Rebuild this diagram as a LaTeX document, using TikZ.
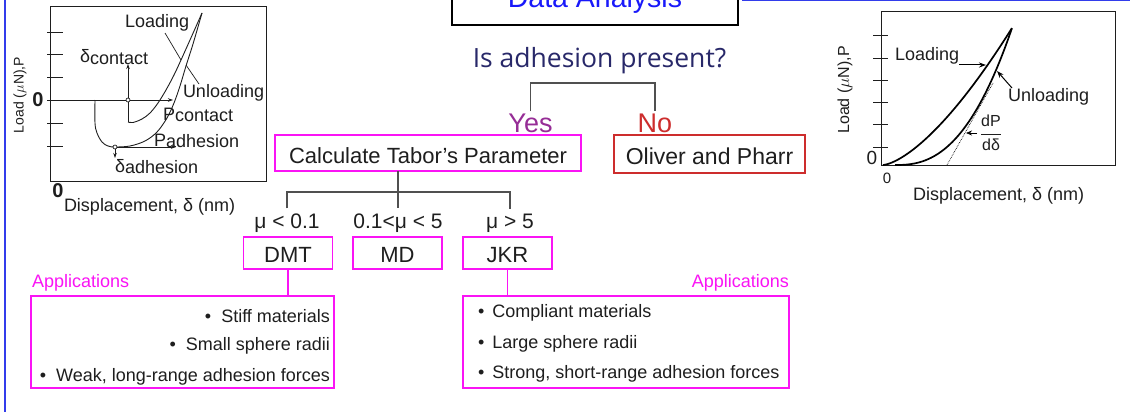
\documentclass[tikz,border=0pt]{standalone}
\usepackage{fontspec}
\setmainfont{Liberation Sans}
\newfontfamily\qfont{Open Sans}
\usetikzlibrary{arrows.meta}
\definecolor{ink}{RGB}{30,30,30}
\definecolor{mag}{RGB}{250,20,245}
\definecolor{navy}{RGB}{40,40,105}
\definecolor{yescol}{RGB}{150,45,150}
\definecolor{nocol}{RGB}{205,45,45}
\definecolor{titleblue}{RGB}{25,25,250}
\definecolor{frameblue}{RGB}{50,60,235}
\definecolor{lgray}{RGB}{80,80,80}
\newcommand\pxsize[1]{\fontsize{#1}{#1}\selectfont}
\begin{document}
\begin{tikzpicture}[x=1pt,y=-1pt,
  every node/.style={inner sep=0pt, outer sep=0pt, text=ink},
  box/.style={draw, line width=1.3pt, inner sep=0pt, text depth=0pt},
  link/.style={draw=lgray, line width=1.2pt},
  magline/.style={draw=mag, line width=1.3pt},
  plotline/.style={draw=ink, line width=1pt},
  tickmark/.style={draw=ink, line width=0.9pt},
  curve/.style={draw=ink, line width=0.9pt},
  thickcurve/.style={draw=black, line width=1.7pt},
  small arrow/.style={draw=ink, -{Stealth[length=5pt,width=3.5pt]}, line width=0.7pt},
  big arrow/.style={draw=black, -{Stealth[length=7pt,width=5pt]}, line width=1pt},
  lbl/.style={anchor=base west, font=\pxsize{18}},
  bullet/.style={font=\pxsize{18}},
]
\useasboundingbox (0,0) rectangle (1130,412);
\clip (0,0) rectangle (1130,412);
\fill[white] (0,0) rectangle (1130,412);

% slide frame
\draw[frameblue, line width=1.5pt] (5,0) -- (5,412);
\draw[frameblue, line width=2pt] (742,0.5) -- (1130,0.5);

% title box
\node[box, draw=black, line width=2pt, minimum width=286pt, minimum height=66pt,
      text height=31pt, font=\pxsize{28.5}, text=titleblue] (title) at (595,-8) {Data Analysis};

% decision
\node[anchor=base, font=\qfont\pxsize{26.5}, text=navy] (q) at (599.5,68) {Is adhesion present?};
\node[anchor=base, font=\pxsize{27}, text=yescol] (yes) at (530.5,132) {Yes};
\node[anchor=base, font=\pxsize{27}, text=nocol] (no) at (655,132) {No};
\coordinate (qb) at (599.5,83);
\draw[link] ([yshift=2pt]yes.north) |- (qb) -| ([yshift=2pt]no.north);

\node[box, draw=mag, minimum width=306pt, minimum height=36pt, text height=20pt,
      font=\pxsize{22}] (tabor) at (428,153) {Calculate Tabor’s Parameter};
\node[box, draw=nocol, line width=1.2pt, minimum width=191pt, minimum height=38pt,
      text height=20pt, font=\pxsize{23}] (oliver) at (709.5,154) {Oliver and Pharr};

% Tabor parameter branches
\coordinate (tb) at (398,192);
\node[anchor=base, font=\pxsize{21}] (mu1) at (287,228) {μ < 0.1};
\node[anchor=base, font=\pxsize{21}] (mu2) at (398,228) {0.1<μ < 5};
\node[anchor=base, font=\pxsize{21}] (mu3) at (510,228) {μ > 5};
\draw[link] (tabor.south -| tb) -- (tb);
\draw[link] ([yshift=5pt]mu1.north) |- (tb) -| ([yshift=5pt]mu3.north);
\draw[link] (tb) -- ([yshift=5pt]mu2.north);

\node[box, draw=mag, minimum width=89pt, minimum height=32pt, text height=18pt, font=\pxsize{22}] (dmt) at (288,253) {DMT};
\node[box, draw=mag, minimum width=89pt, minimum height=32pt, text height=18pt, font=\pxsize{22}] (md) at (397.5,253) {MD};
\node[box, draw=mag, minimum width=89pt, minimum height=32pt, text height=18pt, font=\pxsize{22}] (jkr) at (507.5,253) {JKR};

% applications
\node[box, draw=mag, minimum width=303pt, minimum height=92pt] (appl) at (182.5,342) {};
\node[box, draw=mag, minimum width=326pt, minimum height=92pt] (appr) at (626,342) {};
\draw[magline] (dmt.south) -- (dmt.south |- appl.north);
\draw[magline] (jkr.south) -- (jkr.south |- appr.north);
\node[anchor=base west, font=\pxsize{18}, text=mag] (applt) at (32,287) {Applications};
\node[anchor=base east, font=\pxsize{18}, text=mag] (apprt) at (789,287) {Applications};

\node[bullet, anchor=base east] (l1) at (330,322) {•\hspace{10pt}Stiff materials};
\node[bullet, anchor=base east] (l2) at (330,350) {•\hspace{10pt}Small sphere radii};
\node[bullet, anchor=base east] (l3) at (330,381) {•\hspace{10pt}Weak, long-range adhesion forces};
\node[bullet, anchor=base west] (r1) at (478,317) {•\hspace{8pt}Compliant materials};
\node[bullet, anchor=base west] (r2) at (478,348) {•\hspace{8pt}Large sphere radii};
\node[bullet, anchor=base west] (r3) at (478,378) {•\hspace{8pt}Strong, short-range adhesion forces};

% ---- load-displacement curve with adhesion ----
\draw[plotline] (50,7) rectangle (266,181);
\foreach \ty in {32,54,77,100,123,146} \draw[tickmark] (47,\ty) -- (63,\ty);
\node[font=\bfseries\pxsize{20}] (lzero) at (38,100) {0};
\node[font=\bfseries\pxsize{20}] (lzerox) at (58,191) {0};
\node[rotate=90, font=\pxsize{14}] (lylab) at (20,95) {Load ($\mu$N),P};
\node[lbl] (lxlab) at (64,211) {Displacement, δ (nm)};

\draw[curve] plot[smooth, tension=0.55] coordinates {(95,100) (95,123) (97,133) (102,142) (108,146) (115,147) (130,146) (145,141) (157,132) (167,118) (174,103) (180,86) (186,66) (193,44) (202,13)};
\draw[curve] plot[smooth, tension=0.55] coordinates {(128,122) (133,122.5) (142,119) (150,113) (158,103) (166,90) (174,75) (181,60) (190,40) (202,13)};

\draw[small arrow] (50,100) -- (173,100);
\draw[small arrow] (128,122) -- (128,64);
\draw[small arrow] (115,147) -- (176,147);
\draw[small arrow] (115,147) -- (115,158);
\draw[fill=white, line width=0.6pt] (128,100) circle (2pt);
\draw[fill=white, line width=0.6pt] (115,147) circle (2pt);

\node[lbl] (lload) at (125,28) {Loading};
\node[lbl] (lunload) at (183,97) {Unloading};
\draw[ink, line width=0.7pt] (165,33) -- (181,60);
\draw[ink, line width=0.7pt] (186,65) -- (199,84);
\node[lbl] (dcont) at (80,63) {δ\raisebox{-1.5pt}{contact}};
\node[lbl] (pcont) at (163,120) {P\raisebox{-1.5pt}{contact}};
\node[lbl] (padh) at (154,146) {P\raisebox{-1.5pt}{adhesion}};
\node[lbl] (dadh) at (115,172) {δ\raisebox{-1.5pt}{adhesion}};

% ---- load-displacement curve without adhesion ----
\draw[plotline] (881,12) rectangle (1115,165);
\foreach \ty in {35,58,80,102,124,147} \draw[tickmark] (873,\ty) -- (888,\ty);
\node[font=\pxsize{19}] (rzero) at (872,158) {0};
\node[font=\pxsize{15}] (rzerox) at (887,178) {0};
\node[rotate=90, font=\pxsize{16}] (rylab) at (845,90) {Load ($\mu$N),P};
\node[lbl] (rxlab) at (913,200) {Displacement, δ (nm)};

\draw[thickcurve] plot[domain=0:1, samples=60] ({883+129*\x},{165-137*\x*sqrt(\x)});
\draw[thickcurve] plot[domain=0:1, samples=60] ({895+117*\x},{165-137*\x*\x*sqrt(\x)});
\draw[black, densely dotted, line width=0.7pt] (947,165) -- (993,83);

\node[lbl] (rload) at (895,60) {Loading};
\coordinate (rloadtip) at (986,65);
\draw[big arrow] ([yshift=-5pt]rload.base east) -- (rloadtip);
\node[lbl] (runload) at (1008,102) {Unloading};
\coordinate (runloadtip) at (997,71);
\draw[big arrow] ([xshift=4pt,yshift=14pt]runload.base west) -- (runloadtip);
\node[font=\pxsize{16}] (slope) at (991,133) {$\displaystyle\frac{\mbox{dP}}{\mbox{dδ}}$};
\draw[-{Stealth[length=6pt,width=5pt]}, line width=0.8pt] ([xshift=-3pt]slope.west) -- ++(-11,0);
\end{tikzpicture}
\end{document}
